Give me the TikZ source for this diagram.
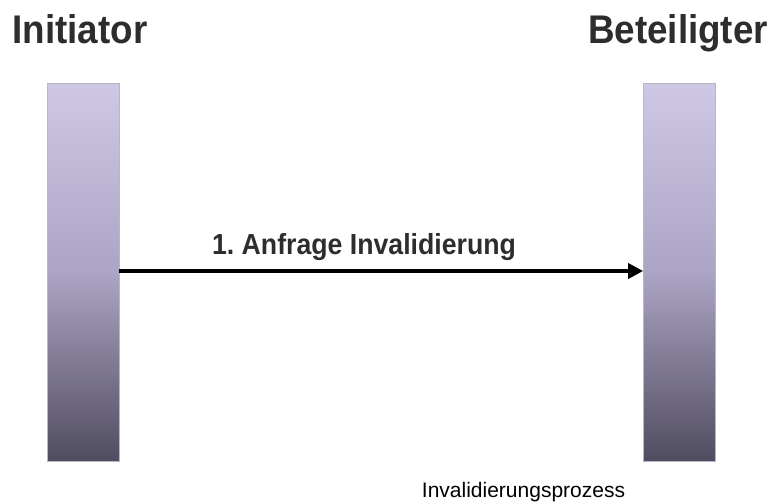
\documentclass[tikz,border=0pt]{standalone}
\usepackage{fontspec}
\setmainfont{Liberation Sans}
\newfontfamily\narrowsans[FakeStretch=0.92]{Liberation Sans}
\usetikzlibrary{arrows.meta}
\frenchspacing
\definecolor{titlegrey}{RGB}{45,45,45}
\definecolor{bartop}{RGB}{206,200,230}
\definecolor{barmid}{RGB}{172,164,196}
\definecolor{barbot}{RGB}{80,76,96}
\definecolor{barrim}{RGB}{185,182,195}
\tikzset{
  lifeline/.style={draw=barrim, line width=0.8pt, minimum width=72pt, minimum height=378pt,
    inner sep=0pt, top color=bartop, bottom color=barbot, middle color=barmid},
  party/.style={anchor=base, inner sep=0pt, text=titlegrey,
    font=\narrowsans\bfseries\fontsize{40}{40}\selectfont},
  msglabel/.style={anchor=base, inner sep=0pt, text=titlegrey,
    font=\narrowsans\bfseries\fontsize{29}{29}\selectfont},
  caption/.style={anchor=base, inner sep=0pt, text=black,
    font=\fontsize{21}{21}\selectfont},
  msg/.style={line width=4pt, -{Triangle[length=15pt,width=15pt]}}
}
\begin{document}
\begin{tikzpicture}[x=1pt,y=-1pt]
  \useasboundingbox[fill=white] (0,0) rectangle (773,503);
  % lifelines
  \node[lifeline] (ini) at (83,272.5) {};
  \node[lifeline] (bet) at (679.5,272.5) {};
  % participants
  \node[party] (ininame) at (80,44) {Initiator};
  \node[party] (betname) at (678,44) {Beteiligter};
  % message
  \coordinate (msgy) at (0,271);
  \draw[msg] (ini.east |- msgy) -- (bet.west |- msgy);
  \node[msglabel] (msgtext) at (364,254) {1. Anfrage Invalidierung};
  % caption
  \node[caption] (cap) at (523.5,497) {Invalidierungsprozess};
\end{tikzpicture}
\end{document}
